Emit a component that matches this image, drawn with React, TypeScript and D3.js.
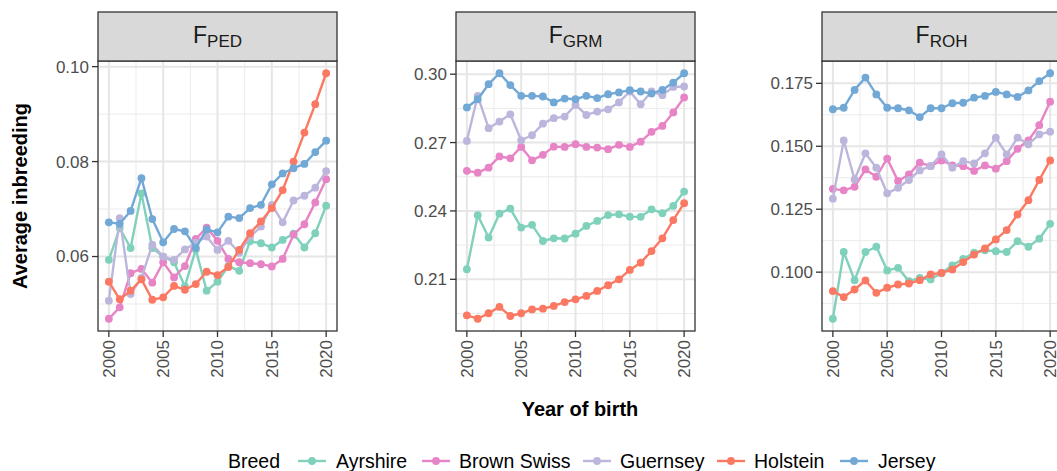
import React from "react";
import * as d3 from "d3";

const years = [2000, 2001, 2002, 2003, 2004, 2005, 2006, 2007, 2008, 2009, 2010, 2011, 2012, 2013, 2014, 2015, 2016, 2017, 2018, 2019, 2020];
const xTicks = [2000, 2005, 2010, 2015, 2020];
const xMinor = [2002.5, 2007.5, 2012.5, 2017.5];

const breeds = ["Ayrshire", "Brown Swiss", "Guernsey", "Holstein", "Jersey"];
const breedColors = ["#7fd1bc", "#e784c6", "#bdb6dc", "#fb7862", "#72a8d5"];

// F_PED
const pedAyrshire = [0.0593, 0.066, 0.0618, 0.0733, 0.0618, 0.06, 0.0588, 0.0537, 0.0615, 0.0528, 0.0547, 0.058, 0.057, 0.0632, 0.0628, 0.0619, 0.0635, 0.0648, 0.0619, 0.0649, 0.0707];
const pedBrownSwiss = [0.0469, 0.0493, 0.0565, 0.0574, 0.0545, 0.0588, 0.0556, 0.058, 0.0637, 0.0661, 0.0633, 0.0595, 0.0588, 0.0586, 0.0584, 0.0579, 0.0595, 0.0646, 0.0668, 0.0714, 0.0763];
const pedGuernsey = [0.0507, 0.0681, 0.0521, 0.0555, 0.0625, 0.06, 0.0593, 0.0615, 0.0629, 0.0642, 0.0614, 0.0633, 0.0608, 0.0642, 0.0663, 0.0709, 0.0672, 0.0718, 0.0728, 0.0745, 0.078];
const pedHolstein = [0.0547, 0.051, 0.0528, 0.0552, 0.0509, 0.0514, 0.0538, 0.053, 0.0542, 0.0568, 0.0561, 0.0578, 0.0614, 0.0649, 0.0674, 0.0702, 0.074, 0.08, 0.0861, 0.0921, 0.0986];
const pedJersey = [0.0672, 0.0669, 0.0696, 0.0765, 0.0679, 0.063, 0.0658, 0.0653, 0.0618, 0.0657, 0.0651, 0.0684, 0.0681, 0.0702, 0.0709, 0.0752, 0.0775, 0.0786, 0.0795, 0.082, 0.0844];

// F_GRM
const grmAyrshire = [0.2144, 0.2381, 0.2283, 0.2388, 0.241, 0.2327, 0.2339, 0.2268, 0.228, 0.2279, 0.23, 0.2334, 0.2356, 0.2382, 0.2385, 0.2375, 0.2374, 0.2407, 0.239, 0.2422, 0.2485];
const grmBrownSwiss = [0.2576, 0.2568, 0.259, 0.2639, 0.2631, 0.2681, 0.2622, 0.2646, 0.2682, 0.2681, 0.2693, 0.2681, 0.2678, 0.2671, 0.269, 0.2681, 0.2704, 0.2747, 0.2773, 0.2832, 0.2898];
const grmGuernsey = [0.2707, 0.2905, 0.2763, 0.2792, 0.2824, 0.271, 0.2732, 0.2783, 0.2807, 0.2814, 0.2865, 0.2821, 0.2836, 0.2846, 0.2876, 0.2924, 0.2868, 0.2924, 0.2908, 0.2944, 0.2946];
const grmHolstein = [0.1942, 0.1927, 0.1951, 0.1979, 0.1939, 0.1951, 0.1968, 0.1971, 0.1983, 0.2, 0.2012, 0.2027, 0.2049, 0.2074, 0.21, 0.2141, 0.2173, 0.2224, 0.228, 0.236, 0.2434];
const grmJersey = [0.2854, 0.289, 0.2956, 0.3004, 0.2952, 0.2905, 0.2905, 0.2902, 0.2876, 0.2893, 0.289, 0.2905, 0.2895, 0.2912, 0.292, 0.293, 0.2924, 0.2915, 0.2931, 0.2963, 0.3004];

// F_ROH
const rohAyrshire = [0.0815, 0.108, 0.0968, 0.108, 0.1101, 0.1007, 0.1017, 0.0964, 0.0977, 0.0971, 0.0997, 0.1027, 0.1053, 0.1077, 0.1087, 0.1083, 0.108, 0.1123, 0.1101, 0.1133, 0.1192];
const rohBrownSwiss = [0.1331, 0.1325, 0.1339, 0.1408, 0.1379, 0.1451, 0.1362, 0.1388, 0.1435, 0.1421, 0.1444, 0.1424, 0.1421, 0.1402, 0.1424, 0.1411, 0.1441, 0.149, 0.1523, 0.1584, 0.1677];
const rohGuernsey = [0.1292, 0.1523, 0.1368, 0.1472, 0.1415, 0.1313, 0.1335, 0.1366, 0.1404, 0.1421, 0.1468, 0.1415, 0.1441, 0.1432, 0.1472, 0.1534, 0.1468, 0.1534, 0.1508, 0.1547, 0.1558];
const rohHolstein = [0.0925, 0.0901, 0.0931, 0.0967, 0.0918, 0.0938, 0.0951, 0.0955, 0.0968, 0.0991, 0.0997, 0.1011, 0.104, 0.107, 0.1094, 0.113, 0.1167, 0.1229, 0.1286, 0.1366, 0.1444];
const rohJersey = [0.1647, 0.1653, 0.1724, 0.1773, 0.1706, 0.1653, 0.1651, 0.1643, 0.1616, 0.1651, 0.1651, 0.1671, 0.1673, 0.1693, 0.17, 0.1716, 0.1706, 0.1696, 0.1722, 0.1759, 0.179];

const pedTicks = [0.06, 0.08, 0.1];
const pedMinor = [0.05, 0.07, 0.09];
const grmTicks = [0.21, 0.24, 0.27, 0.3];
const grmMinor = [0.195, 0.225, 0.255, 0.285];
const rohTicks = [0.1, 0.125, 0.15, 0.175];
const rohMinor = [0.0875, 0.1125, 0.1375, 0.1625];

const panels = [
  { sub: "PED", series: [pedAyrshire, pedBrownSwiss, pedGuernsey, pedHolstein, pedJersey], ticks: pedTicks, minor: pedMinor, fmt: d3.format(".2f") },
  { sub: "GRM", series: [grmAyrshire, grmBrownSwiss, grmGuernsey, grmHolstein, grmJersey], ticks: grmTicks, minor: grmMinor, fmt: d3.format(".2f") },
  { sub: "ROH", series: [rohAyrshire, rohBrownSwiss, rohGuernsey, rohHolstein, rohJersey], ticks: rohTicks, minor: rohMinor, fmt: d3.format(".3f") },
];

const W = 1057;
const H = 471;
const panelLefts = [98, 456, 822];
const panelW = 239;
const stripTop = 12;
const plotTop = 61;
const plotBottom = 331;
const font = "'Liberation Sans', Arial, Helvetica, sans-serif";
const dark = "#333333";
const tickText = "#4d4d4d";

const legendTitleX = 228;
const legendKeyX = [312, 436, 597, 731, 854];
const legendLabelX = [336, 459, 620, 754, 878];
const legendY = 461;

function Panel({ p, left }: { p: any; left: number }) {
  const x = d3.scaleLinear().domain([1999, 2021]).range([left, left + panelW]);
  const all = p.series.flat();
  const [mn, mx] = d3.extent(all) as [number, number];
  const pad = (mx - mn) * 0.05;
  const y = d3.scaleLinear().domain([mn - pad, mx + pad]).range([plotBottom, plotTop]);
  const line = d3
    .line<number>()
    .x((_, i) => x(years[i]))
    .y((d) => y(d));
  const cx = left + panelW / 2;
  return (
    <g>
      <rect x={left} y={plotTop} width={panelW} height={plotBottom - plotTop} fill="white" />
      {p.minor.map((v: number) => (
        <line key={"ym" + v} x1={left} x2={left + panelW} y1={y(v)} y2={y(v)} stroke="#ebebeb" strokeWidth={1} />
      ))}
      {xMinor.map((v) => (
        <line key={"xm" + v} x1={x(v)} x2={x(v)} y1={plotTop} y2={plotBottom} stroke="#ebebeb" strokeWidth={1} />
      ))}
      {p.ticks.map((v: number) => (
        <line key={"yM" + v} x1={left} x2={left + panelW} y1={y(v)} y2={y(v)} stroke="#e6e6e6" strokeWidth={2} />
      ))}
      {xTicks.map((v) => (
        <line key={"xM" + v} x1={x(v)} x2={x(v)} y1={plotTop} y2={plotBottom} stroke="#e6e6e6" strokeWidth={2} />
      ))}
      {p.series.map((s: number[], k: number) => (
        <g key={breeds[k]}>
          <path d={line(s) || ""} fill="none" stroke={breedColors[k]} strokeWidth={2.4} strokeLinejoin="round" />
          {s.map((v, i) => (
            <circle key={i} cx={x(years[i])} cy={y(v)} r={3.9} fill={breedColors[k]} />
          ))}
        </g>
      ))}
      <rect x={left} y={plotTop} width={panelW} height={plotBottom - plotTop} fill="none" stroke={dark} strokeWidth={1.3} />
      {/* strip */}
      <rect x={left} y={stripTop} width={panelW} height={plotTop - stripTop} fill="#d9d9d9" stroke={dark} strokeWidth={1.3} />
      <text x={cx} y={43} textAnchor="middle" fontFamily={font} fill="#1a1a1a">
        <tspan fontSize={23}>F</tspan>
        <tspan fontSize={17} dy={4}>{p.sub}</tspan>
      </text>
      {/* y axis */}
      {p.ticks.map((v: number) => (
        <g key={"yt" + v}>
          <line x1={left - 6} x2={left} y1={y(v)} y2={y(v)} stroke={dark} strokeWidth={1.3} />
          <text x={left - 9} y={y(v)} dy="0.35em" textAnchor="end" fontFamily={font} fontSize={17} fill={tickText}>
            {p.fmt(v)}
          </text>
        </g>
      ))}
      {/* x axis */}
      {xTicks.map((v) => (
        <g key={"xt" + v}>
          <line x1={x(v)} x2={x(v)} y1={plotBottom} y2={plotBottom + 6} stroke={dark} strokeWidth={1.3} />
          <text
            transform={`translate(${x(v)},${plotBottom + 9}) rotate(-90)`}
            dy="0.35em"
            textAnchor="end"
            fontFamily={font}
            fontSize={17}
            fill={tickText}
          >
            {v}
          </text>
        </g>
      ))}
    </g>
  );
}

export default function App() {
  return (
    <svg
      width={W}
      height={H}
      viewBox={`0 0 ${W} ${H}`}
      style={{ position: "absolute", left: 0, top: 0, background: "white" }}
    >
      <rect x={0} y={0} width={W} height={H} fill="white" />
      {panels.map((p, i) => (
        <Panel key={p.sub} p={p} left={panelLefts[i]} />
      ))}
      <text
        transform={`translate(27,${(plotTop + plotBottom) / 2}) rotate(-90)`}
        textAnchor="middle"
        fontFamily={font}
        fontSize={20}
        fontWeight="bold"
        fill="black"
      >
        Average inbreeding
      </text>
      <text x={580} y={416} textAnchor="middle" fontFamily={font} fontSize={20} fontWeight="bold" fill="black">
        Year of birth
      </text>
      <text x={legendTitleX} y={legendY} dy="0.35em" fontFamily={font} fontSize={19.5} fill="black">
        Breed
      </text>
      {breeds.map((b, k) => (
        <g key={b}>
          <line x1={legendKeyX[k] - 14} x2={legendKeyX[k] + 14} y1={legendY} y2={legendY} stroke={breedColors[k]} strokeWidth={2.4} />
          <circle cx={legendKeyX[k]} cy={legendY} r={3.9} fill={breedColors[k]} />
          <text x={legendLabelX[k]} y={legendY} dy="0.35em" fontFamily={font} fontSize={19.5} fill="black">
            {b}
          </text>
        </g>
      ))}
    </svg>
  );
}
